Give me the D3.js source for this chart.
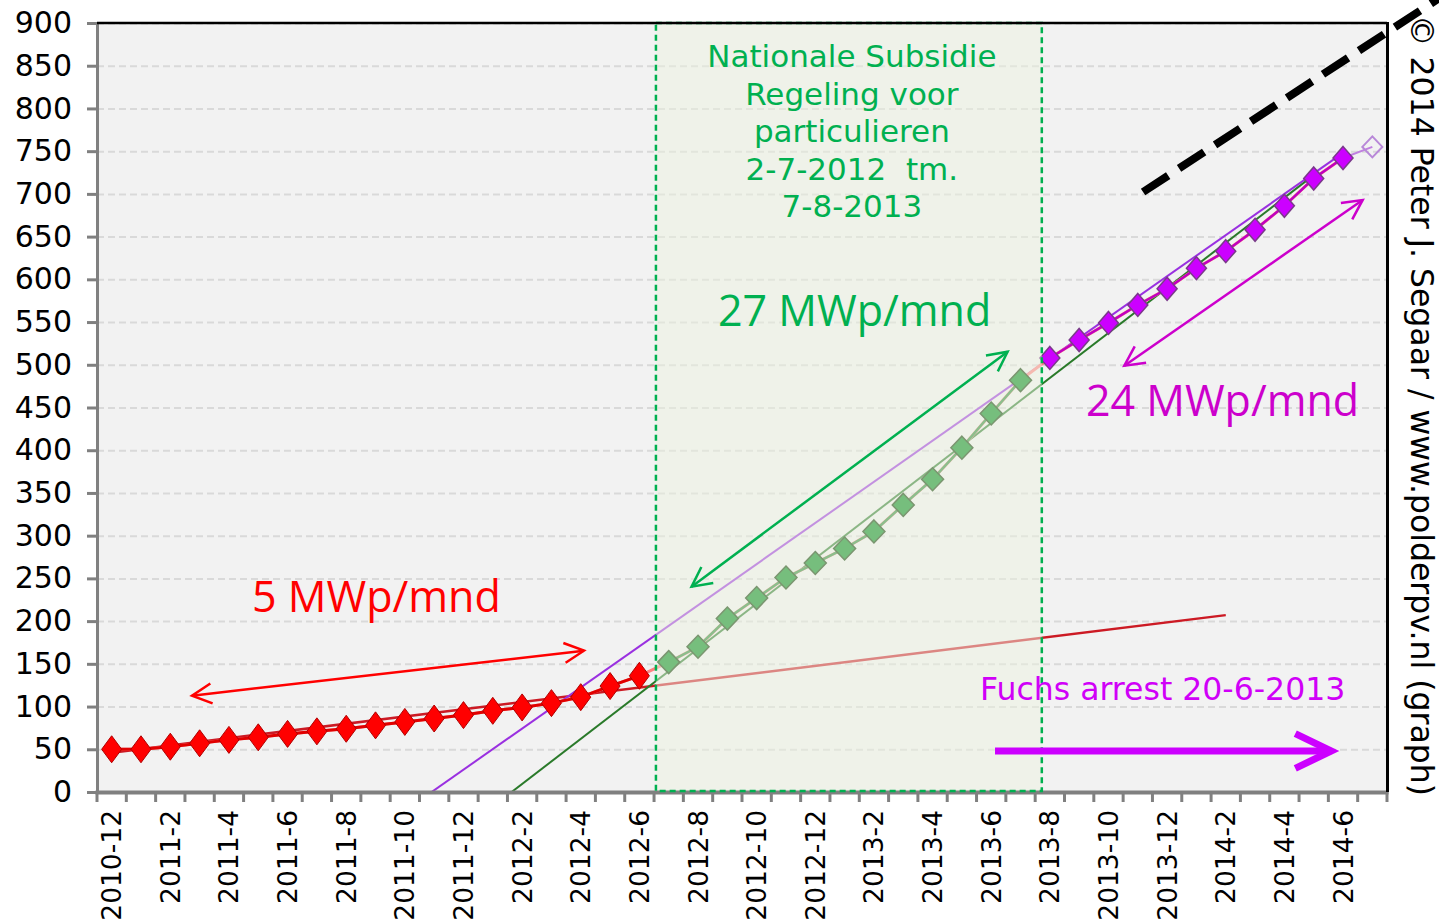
<!DOCTYPE html>
<meta charset="utf-8">
<style>
body { margin: 0; background: #fff; }
text { font-family: "DejaVu Sans", Verdana, sans-serif; }
.axis text { font-size: 30px; fill: #000; }
.axis--x text { font-size: 26.5px; }
.grid line { stroke: #d9d9d9; stroke-width: 2; stroke-dasharray: 7,4; }
.grid path { display: none; }
.big { font-family: "Open Sans", sans-serif; font-size: 43px; }
</style>
<svg width="1439" height="924"></svg>
<script src="https://d3js.org/d3.v7.min.js"></script>
<script>

// months on the x axis
var months = ["2010-12",
  "2011-1","2011-2","2011-3","2011-4","2011-5","2011-6","2011-7","2011-8","2011-9","2011-10","2011-11","2011-12",
  "2012-1","2012-2","2012-3","2012-4","2012-5","2012-6","2012-7","2012-8","2012-9","2012-10","2012-11","2012-12",
  "2013-1","2013-2","2013-3","2013-4","2013-5","2013-6","2013-7","2013-8","2013-9","2013-10","2013-11","2013-12",
  "2014-1","2014-2","2014-3","2014-4","2014-5","2014-6","2014-7"];

// cumulative MWp, 2010-12 .. 2012-6
var redValues = [50, 50, 53, 57, 61, 64, 68, 71, 74, 78, 82, 86, 90, 95, 99, 104, 111, 124, 136];
// 2012-7 .. 2013-7 (subsidy period)
var greenValues = [152, 170, 203, 227, 251, 268, 285, 305, 336, 366, 403, 443, 482];
// 2013-8 .. 2014-6
var purpleValues = [508, 529, 549, 570, 589, 613, 633, 658, 686, 718, 742];
// 2014-7, preliminary
var openValue = ["2014-7", 755];

// trend lines [month, value]
var trendRed = [["2010-12", 46], ["2014-2", 207]];
var trendGreen = [["2012-1", -17], ["2014-5", 722]];
var trendPurple = [["2011-10", -22], ["2014-6", 748]];

var yTicks = d3.range(0, 901, 50);
var xLabels = months.filter(function(d, i) { return i % 2 === 0; });

var subsidy = [{month: "2012-7", day: 2}, {month: "2013-8", day: 7}];

var svg = d3.select("svg"),
    margin = {top: 23, right: 52, bottom: 132, left: 97},
    width = +svg.attr("width") - margin.left - margin.right,
    height = +svg.attr("height") - margin.top - margin.bottom;

var x = d3.scaleBand().domain(months).range([0, width]).padding(0),
    y = d3.scaleLinear().domain([0, 900]).range([height, 0]),
    // continuous month position (0 = left edge of first month)
    xe = d3.scaleLinear().domain([0, months.length]).range([0, width]);

function cx(m) { return x(m) + x.bandwidth() / 2; }

var g = svg.append("g")
    .attr("transform", "translate(" + margin.left + "," + margin.top + ")");

g.append("rect")
    .attr("width", width).attr("height", height)
    .attr("fill", "#f2f2f2");

g.append("g")
    .attr("class", "grid")
    .call(d3.axisLeft(y).tickValues(yTicks).tickSize(-width).tickFormat(""));

g.append("clipPath").attr("id", "plot")
  .append("rect").attr("width", width).attr("height", height);

var line = d3.line()
    .x(function(d) { return cx(d[0]); })
    .y(function(d) { return y(d[1]); });

var trends = g.append("g").attr("clip-path", "url(#plot)");
trends.append("path").datum(trendRed).attr("d", line)
    .attr("fill", "none").attr("stroke", "#cc1a24").attr("stroke-width", 2.5);
trends.append("path").datum(trendGreen).attr("d", line)
    .attr("fill", "none").attr("stroke", "#2a7a2a").attr("stroke-width", 2);
trends.append("path").datum(trendPurple).attr("d", line)
    .attr("fill", "none").attr("stroke", "#9a30e0").attr("stroke-width", 2);

var redData = d3.zip(months.slice(0, 19), redValues),
    greenData = d3.zip(months.slice(19, 32), greenValues),
    purpleData = d3.zip(months.slice(32, 43), purpleValues),
    allData = redData.concat(greenData, purpleData);

g.append("path").datum(allData).attr("d", line)
    .attr("fill", "none").attr("stroke", "#ff8080").attr("stroke-width", 3);
g.append("path").datum(redData).attr("d", line)
    .attr("fill", "none").attr("stroke", "#e00000").attr("stroke-width", 3);
g.append("path").datum(greenData).attr("d", line)
    .attr("fill", "none").attr("stroke", "#2c8a38").attr("stroke-width", 2.5);
g.append("path").datum([purpleData[purpleData.length - 1], openValue]).attr("d", line)
    .attr("fill", "none").attr("stroke", "#c080e0").attr("stroke-width", 2);
g.append("path").datum(purpleData).attr("d", line)
    .attr("fill", "none").attr("stroke", "#c000c0").attr("stroke-width", 2.5);

function diamond(w, h) {
  return "M0," + (-h) + "L" + w + ",0L0," + h + "L" + (-w) + ",0Z";
}

function markers(data, cls, w, h, fill, stroke, sw) {
  g.selectAll("." + cls)
    .data(data)
    .enter().append("path")
      .attr("class", cls)
      .attr("transform", function(d) { return "translate(" + cx(d[0]) + "," + y(d[1]) + ")"; })
      .attr("d", diamond(w, h))
      .attr("fill", fill)
      .attr("stroke", stroke)
      .attr("stroke-width", sw);
}

markers(redData, "red", 10, 13.5, "#ff0000", "#b00000", 1);
markers(greenData, "green", 11, 11.5, "#008a1a", "#0a3a00", 1.5);
markers(purpleData, "purple", 10, 11.5, "#cc00ff", "#7a3a8a", 1.5);
markers([openValue], "open", 10, 10.5, "none", "#b888d8", 2);

// subsidy period
var sx0 = x(subsidy[0].month) + subsidy[0].day / 31 * x.bandwidth(),
    sx1 = x(subsidy[1].month) + subsidy[1].day / 31 * x.bandwidth();

g.append("rect")
    .attr("x", sx0).attr("y", 0)
    .attr("width", sx1 - sx0).attr("height", height)
    .attr("fill", "rgb(236,242,224)").attr("fill-opacity", 0.5);

// axes
g.append("g")
    .attr("class", "axis axis--y")
    .call(d3.axisLeft(y).tickValues(yTicks).tickSize(10).tickSizeOuter(0).tickPadding(15))
    .call(function(s) {
      s.select(".domain").attr("stroke", "#808080").attr("stroke-width", 3);
      s.selectAll(".tick line").attr("stroke", "#808080").attr("stroke-width", 3);
    });

g.append("g")
    .attr("class", "axis axis--x")
    .attr("transform", "translate(0," + height + ")")
    .call(d3.axisBottom(x).tickValues(xLabels).tickSize(0))
    .call(function(s) {
      s.select(".domain").remove();
      s.selectAll("text")
        .attr("transform", "rotate(-90)")
        .attr("x", -18).attr("y", 0).attr("dy", "0.36em")
        .style("text-anchor", "end");
    });

g.append("line")
    .attr("x1", -1.5).attr("x2", width + 1.5)
    .attr("y1", height + 0.5).attr("y2", height + 0.5)
    .attr("stroke", "#808080").attr("stroke-width", 4);

g.selectAll(".mtick")
  .data(months.map(function(m) { return x(m); }).concat([width]))
  .enter().append("line")
    .attr("class", "mtick")
    .attr("x1", function(d) { return d; }).attr("x2", function(d) { return d; })
    .attr("y1", height).attr("y2", height + 10)
    .attr("stroke", "#808080").attr("stroke-width", 3);

g.append("rect")
    .attr("x", sx0).attr("y", 0)
    .attr("width", sx1 - sx0).attr("height", height - 1)
    .attr("fill", "none")
    .attr("stroke", "#00b050").attr("stroke-width", 2.5)
    .attr("stroke-dasharray", "6,4");

// chart border top and right
g.append("line")
    .attr("x1", 0).attr("x2", width).attr("y1", 0).attr("y2", 0)
    .attr("stroke", "#000").attr("stroke-width", 2.5);
g.append("line")
    .attr("x1", width + 0.5).attr("x2", width + 0.5).attr("y1", -1).attr("y2", height)
    .attr("stroke", "#000").attr("stroke-width", 3);

// annotations
g.append("text")
    .attr("text-anchor", "middle")
    .attr("fill", "#00b050")
    .style("font-size", "31px")
    .style("white-space", "pre")
  .selectAll("tspan")
  .data(["Nationale Subsidie", "Regeling voor", "particulieren", "2-7-2012  tm.", "7-8-2013"])
  .enter().append("tspan")
    .attr("x", (sx0 + sx1) / 2 + 3)
    .attr("y", function(d, i) { return 44 + i * 37.5; })
    .text(function(d) { return d; });

function arrow(a, b, color, w, len, ang, both) {
  var x1 = xe(a[0]), y1 = y(a[1]), x2 = xe(b[0]), y2 = y(b[1]);
  var ar = g.append("g")
      .attr("fill", "none").attr("stroke", color).attr("stroke-width", w);
  ar.append("line").attr("x1", x1).attr("y1", y1).attr("x2", x2).attr("y2", y2);
  function head(px, py, dir) {
    var p = d3.path();
    p.moveTo(px + len * Math.cos(dir + Math.PI - ang), py + len * Math.sin(dir + Math.PI - ang));
    p.lineTo(px, py);
    p.lineTo(px + len * Math.cos(dir + Math.PI + ang), py + len * Math.sin(dir + Math.PI + ang));
    ar.append("path").attr("d", p.toString());
  }
  var dir = Math.atan2(y2 - y1, x2 - x1);
  head(x2, y2, dir);
  if (both) head(x1, y1, dir + Math.PI);
}

arrow([3.24, 112.7], [16.61, 165.4], "#ff0000", 2.5, 22, 0.47, true);
arrow([20.28, 240.3], [31.06, 515.3], "#00b050", 2.5, 22, 0.47, true);
arrow([35.04, 498.9], [43.17, 692.9], "#cc00cc", 2.5, 22, 0.47, true);
arrow([30.63, 48], [42.1, 48], "#cc00ff", 7, 40, 0.45, false);

g.append("line")
    .attr("x1", xe(35.68)).attr("y1", y(702.2))
    .attr("x2", xe(46)).attr("y2", y(934))
    .attr("stroke", "#000").attr("stroke-width", 8)
    .attr("stroke-dasharray", "30,13");

g.append("text").attr("class", "big")
    .attr("x", xe(5.29)).attr("y", y(210.7))
    .attr("fill", "#ff0000").text("5 MWp/mnd");
g.append("text").attr("class", "big")
    .attr("x", xe(21.18)).attr("y", y(545.4))
    .attr("fill", "#00b050").text("27 MWp/mnd");
g.append("text").attr("class", "big")
    .attr("x", xe(33.73)).attr("y", y(440))
    .attr("fill", "#cc00cc").text("24 MWp/mnd");
g.append("text")
    .attr("x", xe(30.12)).attr("y", y(107.7))
    .attr("fill", "#d000f8").style("font-size", "31.5px")
    .text("Fuchs arrest 20-6-2013");

svg.append("text")
    .attr("transform", "translate(1411,15) rotate(90)")
    .attr("fill", "#000").style("font-size", "31.5px")
    .text("© 2014 Peter J. Segaar / www.polderpv.nl (graph)");

</script>
